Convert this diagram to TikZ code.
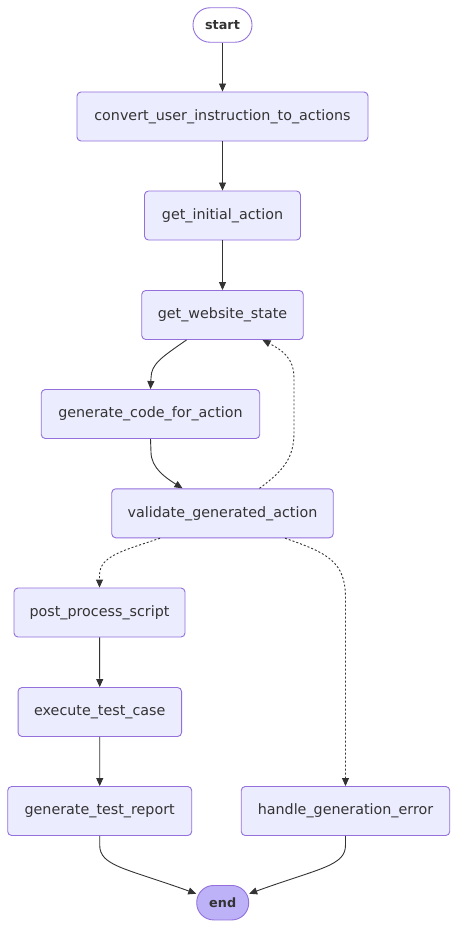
\documentclass[tikz,border=0pt]{standalone}
\usepackage{fontspec}
\setmainfont{DejaVu Sans}
\usetikzlibrary{arrows.meta}
\definecolor{nodefill}{HTML}{ECECFF}
\definecolor{nodeborder}{HTML}{9370DB}
\definecolor{endfill}{HTML}{BDB2F7}
\definecolor{ink}{HTML}{333333}
\begin{document}
\begin{tikzpicture}[x=1pt,y=-1pt,
  box/.style={draw=nodeborder, fill=nodefill, line width=0.9pt, rounded corners=4pt,
    minimum height=49pt, inner sep=0pt, text=ink, font=\fontsize{14.3}{16}\selectfont},
  pill/.style={draw=nodeborder, line width=0.9pt, rounded corners=17pt,
    minimum height=34.5pt, inner sep=0pt, text=ink, font=\fontsize{12.8}{15}\selectfont\bfseries},
  edge/.style={draw=ink, line width=0.9pt, -{Triangle[length=8pt,width=7pt]}},
  dotedge/.style={edge, dash pattern=on 2pt off 2pt}
]
\useasboundingbox (0,0) rectangle (458,928);
\fill[white] (0,0) rectangle (458,928);

\node[pill, fill=white, minimum width=59pt] (start) at (222.5,25) {start};
\node[box, minimum width=291pt] (conv) at (222.5,116.5) {convert\_user\_instruction\_to\_actions};
\node[box, minimum width=156pt] (init) at (222.5,215.5) {get\_initial\_action};
\node[box, minimum width=161.5pt] (gws) at (222.5,315) {get\_website\_state};
\node[box, minimum width=218.5pt] (gcode) at (150.5,414) {generate\_code\_for\_action};
\node[box, minimum width=221.5pt] (val) at (222.5,513.3) {validate\_generated\_action};
\node[box, minimum width=171pt] (post) at (99.5,612.5) {post\_process\_script};
\node[box, minimum width=163.5pt] (exec) at (99.8,712) {execute\_test\_case};
\node[box, minimum width=184pt] (gtr) at (99.7,811) {generate\_test\_report};
\node[box, minimum width=208.5pt] (handle) at (345.5,811) {handle\_generation\_error};
\node[pill, fill=endfill, minimum width=52pt] (end) at (222.7,902.7) {end};

\draw[edge] (start) -- (conv);
\draw[edge] (conv) -- (init);
\draw[edge] (init) -- (gws);
\draw[edge] ([xshift=-36pt]gws.south) .. controls (162,357) and (151,364) .. (151,378) -- (gcode.north);
\draw[edge] (gcode.south) -- (151,452) .. controls (151,468) and (166,478) .. ([xshift=-40pt]val.north);
\draw[dotedge] ([xshift=37pt]val.north) .. controls (284,470) and (294,458) .. (294,432) -- (294,378) .. controls (294,358) and (282,350) .. ([xshift=40pt]gws.south);
\draw[dotedge] ([xshift=-62.5pt]val.south) .. controls (122,551) and (100,556) .. (99.5,575) -- (post.north);
\draw[dotedge] ([xshift=62.5pt]val.south) .. controls (328,553) and (345.5,562) .. (345.5,598) -- (handle.north);
\draw[edge] (post) -- (exec);
\draw[edge] (exec) -- (gtr);
\draw[edge] (gtr.south) -- (99.7,845) .. controls (99.7,866) and (125,868) .. ([yshift=9pt]end.west);
\draw[edge] (handle.south) -- (345.5,845) .. controls (345.5,866) and (320,868) .. ([yshift=9pt]end.east);
\end{tikzpicture}
\end{document}
